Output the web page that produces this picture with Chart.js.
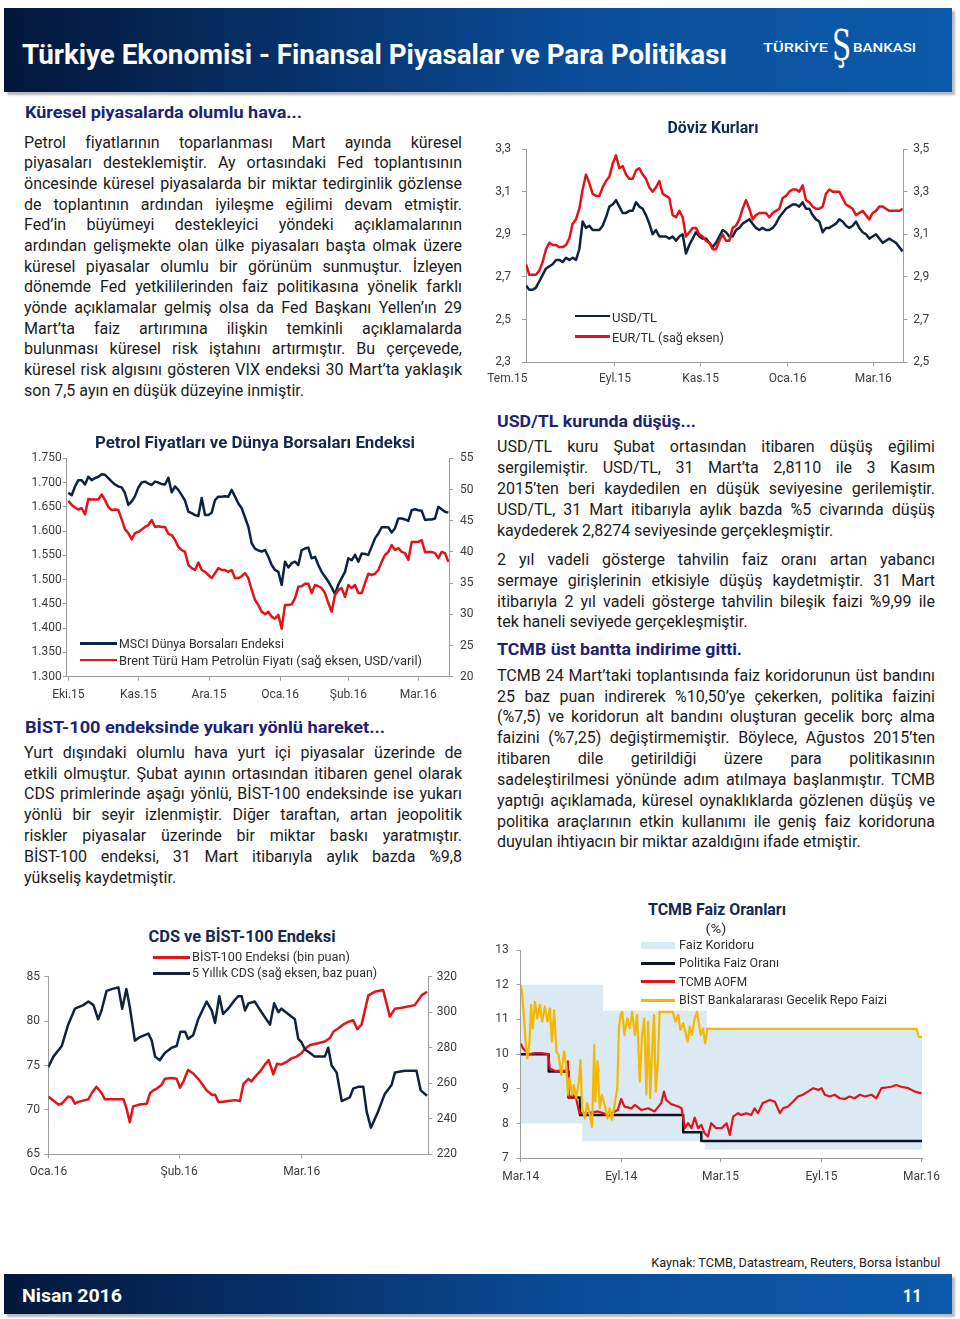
<!DOCTYPE html>
<html lang="tr"><head><meta charset="utf-8">
<title>Türkiye Ekonomisi - Finansal Piyasalar ve Para Politikası</title>
<script src="https://cdn.jsdelivr.net/npm/chart.js@4.4.1/dist/chart.umd.min.js"></script>
<style>
html,body{margin:0;padding:0;background:#fff;}
#page{position:relative;width:960px;height:1319px;overflow:hidden;font-family:Roboto,"Noto Sans",sans-serif;color:#1b1b1b;}
.bar{position:absolute;left:4px;width:948px;background:linear-gradient(90deg,#03173a 0%,#062f66 28%,#0a4c98 60%,#0b5bab 100%);box-shadow:3px 3px 2px rgba(0,0,0,0.28);}
.w{position:absolute;color:#fff;font-weight:700;white-space:nowrap;}
.blk{position:absolute;width:438px;font-size:16px;}
.ln{white-space:nowrap;text-align:justify;text-align-last:justify;}
.ln.e{text-align-last:left;}
.hd{position:absolute;font-weight:700;color:#1d2373;font-size:16.5px;line-height:21px;white-space:nowrap;}
.ct{position:absolute;font-weight:700;color:#14294f;font-size:16px;line-height:20px;white-space:nowrap;transform:translateX(-50%);}
.lg{position:absolute;font-size:12px;line-height:14px;color:#2e2e2e;white-space:nowrap;}
.sw{position:absolute;}
canvas{position:absolute;}
</style>
</head><body>
<div id="page">

<!-- header -->
<div class="bar" style="top:8px;height:84px;"></div>
<div class="w" data-w="705" style="left:22px;top:38.8px;font-size:27px;line-height:32px;">Türkiye Ekonomisi - Finansal Piyasalar ve Para Politikası</div>
<div class="w" data-w="65" style="left:763px;top:40px;font-size:13px;line-height:16px;font-weight:500;">TÜRKİYE</div>
<div class="w" data-w="19" style="left:832px;top:21px;font-size:42px;line-height:50px;font-family:'DejaVu Serif',serif;font-weight:400;">Ş</div>
<div class="w" data-w="63" style="left:853px;top:40px;font-size:13px;line-height:16px;font-weight:500;">BANKASI</div>

<!-- left column -->
<div class="hd" data-w="277" style="left:25px;top:102.2px;">Küresel piyasalarda olumlu hava...</div>
<div class="blk" style="left:24px;top:132.5px;--lh:20.7px;">
<div class="ln">Petrol fiyatlarının toparlanması Mart ayında küresel</div>
<div class="ln">piyasaları desteklemiştir. Ay ortasındaki Fed toplantısının</div>
<div class="ln">öncesinde küresel piyasalarda bir miktar tedirginlik gözlense</div>
<div class="ln">de toplantının ardından iyileşme eğilimi devam etmiştir.</div>
<div class="ln">Fed’in büyümeyi destekleyici yöndeki açıklamalarının</div>
<div class="ln">ardından gelişmekte olan ülke piyasaları başta olmak üzere</div>
<div class="ln">küresel piyasalar olumlu bir görünüm sunmuştur. İzleyen</div>
<div class="ln">dönemde Fed yetkililerinden faiz politikasına yönelik farklı</div>
<div class="ln">yönde açıklamalar gelmiş olsa da Fed Başkanı Yellen’ın 29</div>
<div class="ln">Mart’ta faiz artırımına ilişkin temkinli açıklamalarda</div>
<div class="ln">bulunması küresel risk iştahını artırmıştır. Bu çerçevede,</div>
<div class="ln">küresel risk algısını gösteren VIX endeksi 30 Mart’ta yaklaşık</div>
<div class="ln e">son 7,5 ayın en düşük düzeyine inmiştir.</div>
</div>

<div class="hd" data-w="360" style="left:25px;top:716.6px;">BİST-100 endeksinde yukarı yönlü hareket...</div>
<div class="blk" style="left:24px;top:742.8px;--lh:20.83px;">
<div class="ln">Yurt dışındaki olumlu hava yurt içi piyasalar üzerinde de</div>
<div class="ln">etkili olmuştur. Şubat ayının ortasından itibaren genel olarak</div>
<div class="ln">CDS primlerinde aşağı yönlü, BİST-100 endeksinde ise yukarı</div>
<div class="ln">yönlü bir seyir izlenmiştir. Diğer taraftan, artan jeopolitik</div>
<div class="ln">riskler piyasalar üzerinde bir miktar baskı yaratmıştır.</div>
<div class="ln">BİST-100 endeksi, 31 Mart itibarıyla aylık bazda %9,8</div>
<div class="ln e">yükseliş kaydetmiştir.</div>
</div>

<!-- right column -->
<div class="hd" data-w="199" style="left:497px;top:410.6px;">USD/TL kurunda düşüş...</div>
<div class="blk" style="left:497px;top:437.4px;--lh:20.85px;">
<div class="ln">USD/TL kuru Şubat ortasından itibaren düşüş eğilimi</div>
<div class="ln">sergilemiştir. USD/TL, 31 Mart’ta 2,8110 ile 3 Kasım</div>
<div class="ln">2015’ten beri kaydedilen en düşük seviyesine gerilemiştir.</div>
<div class="ln">USD/TL, 31 Mart itibarıyla aylık bazda %5 civarında düşüş</div>
<div class="ln e">kaydederek 2,8274 seviyesinde gerçekleşmiştir.</div>
</div>
<div class="blk" style="left:497px;top:549.8px;--lh:20.9px;">
<div class="ln">2 yıl vadeli gösterge tahvilin faiz oranı artan yabancı</div>
<div class="ln">sermaye girişlerinin etkisiyle düşüş kaydetmiştir. 31 Mart</div>
<div class="ln">itibarıyla 2 yıl vadeli gösterge tahvilin bileşik faizi %9,99 ile</div>
<div class="ln e">tek haneli seviyede gerçekleşmiştir.</div>
</div>
<div class="hd" data-w="245" style="left:497px;top:638.9px;">TCMB üst bantta indirime gitti.</div>
<div class="blk" style="left:497px;top:665.8px;--lh:20.83px;">
<div class="ln">TCMB 24 Mart’taki toplantısında faiz koridorunun üst bandını</div>
<div class="ln">25 baz puan indirerek %10,50’ye çekerken, politika faizini</div>
<div class="ln">(%7,5) ve koridorun alt bandını oluşturan gecelik borç alma</div>
<div class="ln">faizini (%7,25) değiştirmemiştir. Böylece, Ağustos 2015’ten</div>
<div class="ln">itibaren dile getirildiği üzere para politikasının</div>
<div class="ln">sadeleştirilmesi yönünde adım atılmaya başlanmıştır. TCMB</div>
<div class="ln">yaptığı açıklamada, küresel oynaklıklarda gözlenen düşüş ve</div>
<div class="ln">politika araçlarının etkin kullanımı ile geniş faiz koridoruna</div>
<div class="ln e">duyulan ihtiyacın bir miktar azaldığını ifade etmiştir.</div>
</div>

<!-- charts -->
<canvas id="cFx" width="460" height="260" style="left:480px;top:135px;"></canvas>
<canvas id="cOil" width="470" height="270" style="left:15px;top:440px;"></canvas>
<canvas id="cCds" width="460" height="230" style="left:15px;top:955px;"></canvas>
<canvas id="cTcmb" width="462" height="255" style="left:488px;top:935px;"></canvas>

<!-- chart titles & legends -->
<div class="ct" data-w="91" data-o="c" style="left:712.5px;top:118.3px;">Döviz Kurları</div>
<div class="sw" style="left:575px;top:314.8px;width:35px;height:2.6px;background:#10223f;"></div>
<div class="lg" data-w="45" style="left:612px;top:311px;">USD/TL</div>
<div class="sw" style="left:575px;top:335.4px;width:35px;height:2.6px;background:#e2131a;"></div>
<div class="lg" data-w="112" style="left:612px;top:330.7px;">EUR/TL (sağ eksen)</div>

<div class="ct" data-w="320" data-o="c" style="left:255px;top:432.7px;">Petrol Fiyatları ve Dünya Borsaları Endeksi</div>
<div class="sw" style="left:80px;top:642px;width:37px;height:2.6px;background:#10223f;"></div>
<div class="lg" data-w="165" style="left:119px;top:637px;">MSCI Dünya Borsaları Endeksi</div>
<div class="sw" style="left:80px;top:658.7px;width:37px;height:2.6px;background:#e2131a;"></div>
<div class="lg" data-w="303" style="left:119px;top:653.7px;">Brent Türü Ham Petrolün Fiyatı (sağ eksen, USD/varil)</div>

<div class="ct" data-w="187" data-o="c" style="left:241.7px;top:926.7px;">CDS ve BİST-100 Endeksi</div>
<div class="sw" style="left:153px;top:956px;width:37px;height:2.6px;background:#e2131a;"></div>
<div class="lg" data-w="158" style="left:192px;top:950.3px;">BİST-100 Endeksi (bin puan)</div>
<div class="sw" style="left:153px;top:972px;width:37px;height:2.6px;background:#10223f;"></div>
<div class="lg" data-w="185" style="left:192px;top:966.3px;">5 Yıllık CDS (sağ eksen, baz puan)</div>

<div class="ct" data-w="138" data-o="c" style="left:717px;top:900px;">TCMB Faiz Oranları</div>
<div class="lg" data-w="21" data-o="c" style="left:716.3px;top:922.3px;transform:translateX(-50%);">(%)</div>
<div class="sw" style="left:641px;top:941.5px;width:34px;height:7px;background:#dbe9f3;"></div>
<div class="lg" data-w="75" style="left:679px;top:938px;">Faiz Koridoru</div>
<div class="sw" style="left:641px;top:961.8px;width:34px;height:3px;background:#0c1628;"></div>
<div class="lg" data-w="100" style="left:679px;top:956.3px;">Politika Faiz Oranı</div>
<div class="sw" style="left:641px;top:980.2px;width:34px;height:3px;background:#e2131a;"></div>
<div class="lg" data-w="68" style="left:679px;top:974.7px;">TCMB AOFM</div>
<div class="sw" style="left:641px;top:998.5px;width:34px;height:3px;background:#f5b800;"></div>
<div class="lg" data-w="208" style="left:679px;top:993px;">BİST Bankalararası Gecelik Repo Faizi</div>

<!-- footer -->
<div class="lg" data-w="289" data-o="r" style="right:20px;top:1254.5px;font-size:13px;line-height:16px;color:#222;">Kaynak: TCMB, Datastream, Reuters, Borsa İstanbul</div>
<div class="bar" style="top:1274px;height:40px;"></div>
<div class="w" data-w="100" style="left:22px;top:1283.5px;font-size:19px;line-height:24px;">Nisan 2016</div>
<div class="w" data-w="19" data-o="r" style="right:38px;top:1283.5px;font-size:19px;line-height:24px;">11</div>

</div>

<script>
// ---------- DATA ----------
// Döviz Kurları (sample index over Jul 2015 - Mar 2016)
const usdTl = [2.66,2.64,2.64,2.65,2.68,2.71,2.74,2.75,2.76,2.78,2.78,2.77,2.79,2.78,2.79,2.78,2.83,2.96,2.93,2.94,2.92,2.92,2.92,2.94,2.98,3.03,3.04,3.06,3.03,3.00,3.00,3.01,3.01,3.05,3.03,3.02,2.99,2.95,2.90,2.92,2.89,2.89,2.89,2.88,2.89,2.87,2.89,2.90,2.81,2.85,2.88,2.91,2.89,2.88,2.88,2.86,2.84,2.86,2.89,2.92,2.91,2.89,2.89,2.92,2.93,2.95,2.96,2.97,2.95,2.93,2.92,2.93,2.92,2.92,2.93,2.95,2.98,3.00,3.02,3.03,3.04,3.04,3.03,3.05,3.02,3.02,2.99,2.97,2.96,2.91,2.93,2.93,2.94,2.95,2.97,2.96,2.94,2.93,2.94,2.96,2.93,2.91,2.90,2.88,2.89,2.90,2.88,2.86,2.87,2.88,2.87,2.86,2.84,2.82];
const eurTl = [2.96,2.91,2.91,2.91,2.93,2.97,3.03,3.06,3.05,3.05,3.04,3.04,3.05,3.08,3.15,3.17,3.22,3.31,3.38,3.34,3.29,3.28,3.28,3.32,3.35,3.37,3.43,3.47,3.41,3.42,3.38,3.36,3.36,3.40,3.41,3.38,3.36,3.32,3.30,3.32,3.35,3.29,3.28,3.27,3.19,3.18,3.21,3.18,3.09,3.11,3.13,3.13,3.10,3.09,3.07,3.06,3.03,3.03,3.07,3.10,3.07,3.07,3.13,3.14,3.17,3.22,3.26,3.22,3.17,3.19,3.20,3.20,3.20,3.18,3.20,3.21,3.22,3.27,3.28,3.30,3.31,3.31,3.30,3.33,3.26,3.25,3.23,3.22,3.22,3.23,3.29,3.31,3.30,3.30,3.30,3.27,3.24,3.23,3.22,3.19,3.20,3.21,3.19,3.17,3.20,3.21,3.23,3.23,3.22,3.21,3.21,3.21,3.21,3.22];
const fxTickPos = [-5.6, 26.7, 52.4, 78.5, 104.2];
const fxTickLabels = ['Tem.15','Eyl.15','Kas.15','Oca.16','Mar.16'];
const fxLeftTicks = [2.3,2.5,2.7,2.9,3.1,3.3];
const fxRightTicks = [2.5,2.7,2.9,3.1,3.3,3.5];

// Petrol Fiyatları ve Dünya Borsaları Endeksi (Oct 2015 - Mar 2016)
const msci = [1679,1674,1692,1705,1705,1696,1712,1705,1709,1712,1717,1716,1709,1702,1696,1692,1690,1678,1654,1661,1672,1690,1700,1702,1698,1695,1702,1700,1697,1696,1710,1680,1692,1685,1674,1663,1640,1637,1633,1631,1668,1633,1633,1638,1664,1671,1671,1672,1671,1685,1671,1657,1647,1628,1609,1575,1564,1560,1558,1561,1547,1530,1520,1516,1489,1537,1525,1534,1537,1530,1561,1564,1566,1544,1547,1530,1516,1506,1496,1484,1470,1490,1503,1516,1544,1540,1551,1537,1554,1553,1551,1568,1585,1595,1608,1608,1608,1597,1606,1626,1626,1624,1621,1643,1645,1643,1642,1623,1624,1624,1626,1650,1645,1640,1638];
const brent = [48.2,47.5,47.1,46.8,47.0,46.0,48.5,48.4,48.4,48.4,49.2,48.3,47.2,46.7,46.8,46.7,45.2,43.6,43.0,42.0,43.0,43.2,43.6,44.0,44.3,45.1,44.0,44.1,44.0,44.0,42.9,42.7,41.9,40.8,40.3,40.0,37.9,37.4,37.1,38.3,37.1,36.8,36.3,35.8,36.6,37.4,37.1,37.1,36.8,37.1,35.8,35.8,36.1,36.6,35.8,33.9,32.3,31.5,30.4,30.0,30.4,29.6,29.3,29.9,27.7,31.5,31.5,31.6,32.6,34.4,34.5,34.9,34.9,33.4,34.7,34.5,34.2,33.4,31.8,30.4,33.1,33.9,34.2,32.8,34.7,34.2,34.7,33.4,33.4,35.0,36.5,36.3,36.5,37.1,38.4,39.5,40.0,41.1,40.3,40.6,40.0,39.8,38.7,41.6,41.6,41.6,41.9,40.0,40.0,40.0,39.8,39.0,40.0,39.8,38.4];
const oilTickPos = [0, 21, 42.2, 63.5, 84, 105];
const oilTickLabels = ['Eki.15','Kas.15','Ara.15','Oca.16','Şub.16','Mar.16'];
const oilLeftTicks = [1300,1350,1400,1450,1500,1550,1600,1650,1700,1750];
const oilRightTicks = [20,25,30,35,40,45,50,55];

// CDS ve BİST-100 Endeksi (days since 1 Jan 2016)
const bistDays = [0,0.8,2.4,3.2,4.7,5.5,6.3,7.1,8.7,9.5,10.3,11.4,12.6,13.4,15,16.6,17.8,18.5,19.3,20.1,21.7,23.3,24.1,24.9,25.7,26.8,27.6,29.2,30.4,31.2,32,33.1,34.3,35.5,36.3,37.5,38.7,39.5,40.3,41,42.6,44.2,45.4,46.2,47.4,48.1,48.9,50.1,51.3,52.2,53.3,54.2,55.2,56.4,57.6,58.8,60,60.8,62,63.9,65.5,66.7,67.5,68.7,69.8,71,72.2,73.2,74.2,75.8,77.3,79.3,80.9,82.1,83.7,86.8,88.4,89.7];
const bist100 = [71.5,71.2,70.6,70.7,71.5,71.4,70.7,70.9,71.1,71.2,71.9,72.6,71.9,71.2,71.2,71.2,71.2,70.2,68.6,70.4,70.6,70.7,71.9,72.2,72.4,72.8,73.5,73.6,73.5,72.5,73.2,74.5,74.1,73.5,73.0,72.2,71.7,71.7,70.9,70.9,71.0,71.1,71.0,72.9,73.5,73.2,73.7,74.3,75.1,75.6,74.0,75.2,75.1,75.4,75.8,76.0,76.4,76.9,77.3,77.5,77.7,78.1,78.8,79.2,79.6,79.9,80.1,79.1,79.6,82.9,83.3,83.5,80.5,81.4,81.5,81.8,82.9,83.3];
const cdsDays = [0,1.2,3.2,4.7,6.3,8.3,9.5,10.7,11.8,12.6,13.8,15,16.6,17.5,18.5,19.3,20.5,21.7,23.7,24.5,25.3,26.4,27.6,29.2,30.4,31.3,32.4,33.1,34.3,35.5,37.5,38.7,39.5,40.5,41.4,42.6,44.2,45,45.8,46.6,47.4,48.9,50.5,52.5,53.5,54.5,55.2,56.8,58.4,59.2,60,60.8,62,63.1,65.5,66.3,67.1,68.3,69.5,71.4,72.2,73.4,74.6,75.4,76.4,78.1,79.7,81.3,82.1,84.5,87.2,88.2,89.7];
const cds5y = [269,275,281,293,302,304,306,304,296,301,312,313,314,302,313,303,284,286,288,284,275,273,277,280,281,289,289,285,287,296,306,301,294,309,299,302,307,309,309,301,305,306,300,293,305,300,302,299,296,285,283,279,277,275,275,280,270,266,250,252,257,258,258,244,235,244,254,259,266,267,267,256,253];
const cdsTickPos = [0, 31, 60];
const cdsTickLabels = ['Oca.16','Şub.16','Mar.16'];
const cdsLeftTicks = [65,70,75,80,85];
const cdsRightTicks = [220,240,260,280,300,320];

// TCMB Faiz Oranları (days since 1 Mar 2014)
const corUpDays = [0,150,339,724,731];
const corUpVals = [12,11.25,10.75,10.5,10.5];
const corLoDays = [0,112,335,731];
const corLoVals = [8,7.5,7.25,7.25];
const polDays = [0,51,87,108,296,329,731];
const polVals = [10,9.5,8.75,8.25,7.75,7.5,7.5];
const aofmDays = [0,4,10,16,26,38,50,53,62,74,83,86,88,95,101,107,123,141,159,177,183,189,202,208,220,232,244,256,261,265,274,287,293,299,305,311,317,323,329,335,341,347,356,366,375,381,387,396,402,411,420,426,432,441,454,463,472,478,487,496,505,514,523,533,542,548,554,563,572,581,590,599,608,618,627,639,648,657,666,675,684,693,706,718,730];
const aofmVals = [10.31,10.17,10.07,10.0,10.03,10.03,10.0,9.59,9.52,9.52,9.52,9.79,8.73,8.83,8.71,8.30,8.30,8.35,8.25,8.39,8.71,8.49,8.44,8.54,8.39,8.44,8.35,8.59,8.92,8.68,8.56,8.49,8.44,7.87,8.01,7.87,8.17,7.87,7.96,7.72,7.63,8.01,7.87,7.87,8.01,7.67,8.20,8.30,8.25,8.30,8.25,8.44,8.30,8.59,8.68,8.63,8.30,8.44,8.49,8.63,8.78,8.83,8.92,9.02,8.97,9.02,8.83,8.78,8.83,8.73,8.71,8.78,8.73,8.83,8.78,8.83,8.73,9.02,9.04,9.06,9.11,9.06,9.02,8.92,8.87];
const repoDays = [0,2,6,9,12,16,19,22,26,30,35,39,44,49,53,57,61,65,69,74,79,83,86,89,94,97,101,106,109,112,117,121,126,130,134,136,140,144,148,153,158,162,166,171,176,179,182,185,189,194,199,203,208,212,217,221,225,229,232,236,239,243,246,250,253,259,268,277,282,287,291,296,300,304,308,312,317,321,324,328,332,336,340,344,721,725,731];
const repoVals = [11.99,11.85,11.08,10.36,9.88,10.36,11.42,10.74,11.51,11.03,11.42,10.94,11.37,10.94,11.32,10.36,11.27,10.07,9.98,9.40,10.07,9.69,8.83,9.31,8.83,9.11,8.73,9.21,9.83,8.44,8.15,8.59,8.25,7.91,10.26,8.63,9.79,8.44,8.83,8.54,8.15,8.44,8.11,8.54,9.02,10.74,11.13,11.22,10.55,11.03,10.74,11.22,10.55,11.13,9.21,10.55,11.03,8.83,10.94,8.73,9.98,11.13,8.92,9.79,11.22,11.22,11.22,11.22,10.94,11.13,10.70,10.89,10.65,10.36,10.79,10.55,11.03,11.22,10.94,10.55,10.74,10.31,10.74,10.73,10.73,10.50,10.50];
const tcmbTickPos = [0, 183, 364, 548, 730];
const tcmbTickLabels = ['Mar.14','Eyl.14','Mar.15','Eyl.15','Mar.16'];
const tcmbLeftTicks = [7,8,9,10,11,12,13];

// ---------- TEXT FITTING ----------
document.querySelectorAll('.blk').forEach(b=>{
  const lh = getComputedStyle(b).getPropertyValue('--lh').trim();
  b.querySelectorAll('.ln').forEach(el=>{ el.style.height=lh; el.style.lineHeight=lh; });
});
document.querySelectorAll('.ln').forEach(el=>{
  let fs=16;
  while(el.scrollWidth>el.clientWidth+0.5 && fs>12){ fs-=0.1; el.style.fontSize=fs+'px'; }
});
document.querySelectorAll('[data-w]').forEach(el=>{
  const w=el.getBoundingClientRect().width;
  let k=(+el.dataset.w)/w; k=Math.max(0.5,Math.min(1.3,k));
  const o=el.dataset.o||'l';
  if(o==='c'){el.style.transformOrigin='center center';el.style.transform='translateX(-50%) scaleX('+k+')';}
  else if(o==='r'){el.style.transformOrigin='right center';el.style.transform='scaleX('+k+')';}
  else {el.style.transformOrigin='left center';el.style.transform='scaleX('+k+')';}
});

// ---------- CHARTS ----------
const AX='#9d9d9d', TK='#3c3c3c', NAVY='#10223f', RED='#e2131a', YEL='#f5b800', BLK='#0c1628', BAND='#dbe9f3';
const FONT={family:'Roboto, "Noto Sans", sans-serif', size:12};

function yScale(o){ return {
  type:'linear', position:o.pos, min:o.min, max:o.max,
  afterBuildTicks:s=>{ s.ticks=o.ticks.map(v=>({value:v})); },
  afterFit:s=>{ s.width=o.w; s.paddingTop=0; s.paddingBottom=0; },
  ticks:{callback:o.fmt, color:TK, font:FONT, padding:o.pad},
  grid:{drawOnChartArea:false, drawTicks:true, tickLength:4, color:AX, tickWidth:1},
  border:{display:true, color:AX, width:1}
};}
function xScale(o){ return {
  type:'linear', min:o.min, max:o.max,
  afterBuildTicks:s=>{ s.ticks=o.pos.map(v=>({value:v})); },
  afterFit:s=>{ s.height=o.h; s.paddingLeft=0; s.paddingRight=0; },
  ticks:{callback:(v,i)=>o.labels[i], autoSkip:false, maxRotation:0, minRotation:0, color:TK, font:FONT, padding:o.pad},
  grid:{drawOnChartArea:false, drawTicks:true, tickLength:4, color:AX,
        tickColor:c=>(c.tick && c.tick.value<o.min)?'rgba(0,0,0,0)':AX},
  border:{display:true, color:AX, width:1}
};}
function base(pad, scales){ return {
  responsive:false, animation:false, events:[],
  layout:{padding:pad},
  plugins:{legend:{display:false}, tooltip:{enabled:false}, title:{display:false}},
  elements:{point:{radius:0}, line:{tension:0, borderJoinStyle:'round'}},
  scales
};}
const byIdx = arr => arr.map((v,i)=>({x:i,y:v}));
const byX = (xs,ys) => xs.map((x,i)=>({x:x,y:ys[i]}));
const comma1 = v => v.toFixed(1).replace('.',',');

// Döviz Kurları
new Chart(document.getElementById('cFx'), {type:'line', data:{datasets:[
  {label:'USD/TL', data:byIdx(usdTl), borderColor:NAVY, borderWidth:2.5, yAxisID:'y', order:1},
  {label:'EUR/TL (sağ eksen)', data:byIdx(eurTl), borderColor:RED, borderWidth:2.5, yAxisID:'y1', order:0}
]}, options: base({top:14,left:0,right:0,bottom:0}, {
  x: xScale({min:0, max:113.2, pos:fxTickPos, labels:fxTickLabels, h:32.7, pad:5}),
  y: yScale({pos:'left', min:2.3, max:3.3, ticks:fxLeftTicks, fmt:comma1, w:46, pad:11}),
  y1: yScale({pos:'right', min:2.5, max:3.5, ticks:fxRightTicks, fmt:comma1, w:36.7, pad:6})
})});

// Petrol
new Chart(document.getElementById('cOil'), {type:'line', data:{datasets:[
  {label:'MSCI Dünya Borsaları Endeksi', data:byIdx(msci), borderColor:NAVY, borderWidth:2.5, yAxisID:'y', order:1},
  {label:'Brent Türü Ham Petrolün Fiyatı (sağ eksen, USD/varil)', data:byIdx(brent), borderColor:RED, borderWidth:2.5, yAxisID:'y1', order:0}
]}, options: base({top:18.3,left:0,right:0,bottom:0}, {
  x: xScale({min:-0.5, max:114.2, pos:oilTickPos, labels:oilTickLabels, h:33.3, pad:7}),
  y: yScale({pos:'left', min:1300, max:1750, ticks:oilLeftTicks, fmt:v=>(v/1000).toFixed(3), w:51.7, pad:1}),
  y1: yScale({pos:'right', min:20, max:55, ticks:oilRightTicks, fmt:v=>String(v), w:36, pad:7})
})});

// CDS ve BİST-100
new Chart(document.getElementById('cCds'), {type:'line', data:{datasets:[
  {label:'BİST-100 Endeksi (bin puan)', data:byX(bistDays,bist100), borderColor:RED, borderWidth:2.5, yAxisID:'y', order:1},
  {label:'5 Yıllık CDS (sağ eksen, baz puan)', data:byX(cdsDays,cds5y), borderColor:NAVY, borderWidth:2.5, yAxisID:'y1', order:0}
]}, options: base({top:21.7,left:0,right:0,bottom:0}, {
  x: xScale({min:0, max:90, pos:cdsTickPos, labels:cdsTickLabels, h:30.7, pad:6}),
  y: yScale({pos:'left', min:65, max:85, ticks:cdsLeftTicks, fmt:v=>String(v), w:33.3, pad:4.3}),
  y1: yScale({pos:'right', min:220, max:320, ticks:cdsRightTicks, fmt:v=>String(v), w:46.7, pad:4.4})
})});

// TCMB Faiz Oranları
new Chart(document.getElementById('cTcmb'), {type:'line', data:{datasets:[
  {label:'BİST Bankalararası Gecelik Repo Faizi', data:byX(repoDays,repoVals), borderColor:YEL, borderWidth:2.2, order:0},
  {label:'TCMB AOFM', data:byX(aofmDays,aofmVals), borderColor:RED, borderWidth:2.2, order:1},
  {label:'Politika Faiz Oranı', data:byX(polDays,polVals), borderColor:BLK, borderWidth:2.5, stepped:true, order:2},
  {label:'Faiz Koridoru', data:byX(corUpDays,corUpVals), borderColor:'rgba(0,0,0,0)', borderWidth:0, backgroundColor:BAND, stepped:true, fill:'+1', order:3},
  {label:'Faiz Koridoru (alt)', data:byX(corLoDays,corLoVals), borderColor:'rgba(0,0,0,0)', borderWidth:0, stepped:true, fill:false, order:4}
]}, options: base({top:15,left:0,right:28,bottom:0}, {
  x: xScale({min:0, max:731, pos:tcmbTickPos, labels:tcmbTickLabels, h:31.7, pad:7}),
  y: yScale({pos:'left', min:7, max:13, ticks:tcmbLeftTicks, fmt:v=>String(v), w:32.7, pad:8})
})});
</script>
</body></html>
